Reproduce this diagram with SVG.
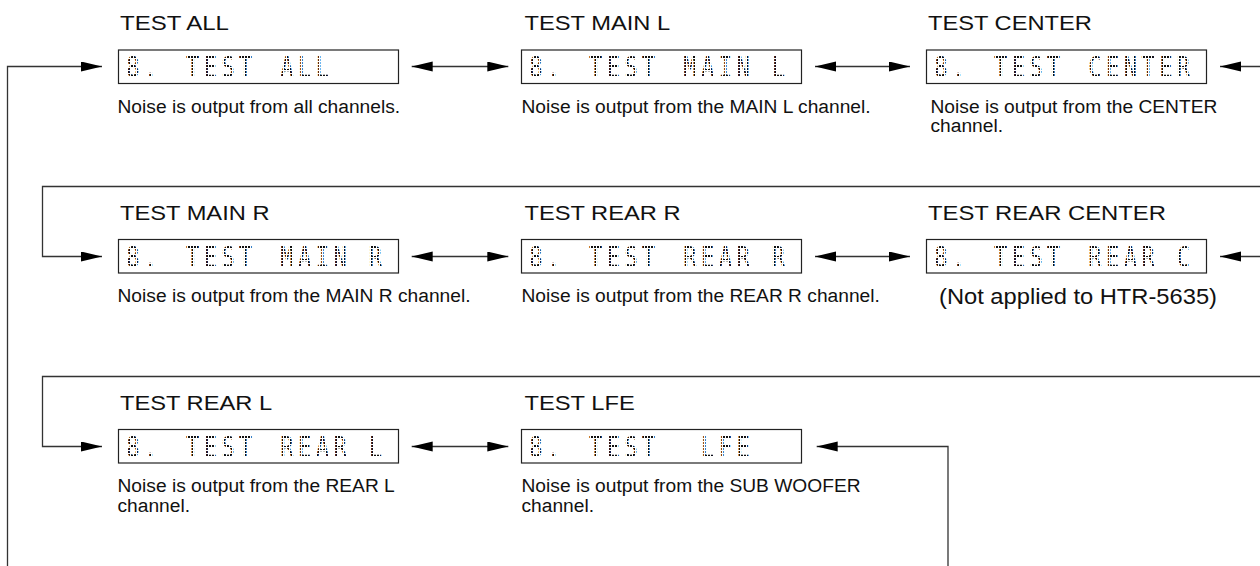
<svg xmlns="http://www.w3.org/2000/svg" width="1260" height="566" viewBox="0 0 1260 566">
<style>
.title{font-family:"Liberation Sans",Arial,sans-serif;font-size:21px;fill:#111}
.desc{font-family:"Liberation Sans",Arial,sans-serif;font-size:19.2px;fill:#111}
.lcd{font-family:"DejaVu Sans Mono",monospace;font-size:27.5px;fill:url(#dm);text-anchor:middle;white-space:pre}
.box{fill:#fff;stroke:#222;stroke-width:1.2}
.conn{fill:none;stroke:#333;stroke-width:1.3}
</style>
<defs>
<pattern id="dm" patternUnits="userSpaceOnUse" width="3.75" height="3"><rect width="2.5" height="2" fill="#111"/></pattern>
<marker id="ah" markerUnits="userSpaceOnUse" markerWidth="22" markerHeight="11" refX="21" refY="5" orient="auto-start-reverse"><path d="M0,0 L21,5 L0,10 Z" fill="#000"/></marker>
</defs>
<rect width="1260" height="566" fill="#fff"/>
<g id="connectors">
<path class="conn" d="M7.5 566 V66.5 H102" marker-end="url(#ah)"/>
<path class="conn" d="M411.7 66.5 H508.3" marker-start="url(#ah)" marker-end="url(#ah)"/>
<path class="conn" d="M815 66.5 H910" marker-start="url(#ah)" marker-end="url(#ah)"/>
<path class="conn" d="M1260 66.5 H1220" marker-end="url(#ah)"/>
<path class="conn" d="M1260 186.5 H42.5 V256.5 H102" marker-end="url(#ah)"/>
<path class="conn" d="M411.7 256.5 H508.3" marker-start="url(#ah)" marker-end="url(#ah)"/>
<path class="conn" d="M815 256.5 H910" marker-start="url(#ah)" marker-end="url(#ah)"/>
<path class="conn" d="M1260 256.5 H1220" marker-end="url(#ah)"/>
<path class="conn" d="M1260 376.5 H42.5 V446.5 H102" marker-end="url(#ah)"/>
<path class="conn" d="M411.7 446.5 H508.3" marker-start="url(#ah)" marker-end="url(#ah)"/>
<path class="conn" d="M948 566 V446.5 H816.7" marker-end="url(#ah)"/>
</g>
<g id="test-all">
<text class="title" x="120" y="30" textLength="108.9" lengthAdjust="spacingAndGlyphs">TEST ALL</text>
<rect class="box" x="118.5" y="50" width="280" height="33.5"/>
<text class="lcd" transform="translate(119,77) scale(0.8,1)" x="17.5 39.4 60 91.9 114.1 136.3 158.1 185 210 232.1 254.3" y="0">8. TEST ALL</text>
<text class="desc" x="117.5" y="112.5">Noise is output from all channels.</text>
</g>
<g id="test-main-l">
<text class="title" x="524.5" y="30" textLength="145.6" lengthAdjust="spacingAndGlyphs">TEST MAIN L</text>
<rect class="box" x="521.5" y="50" width="280" height="33.5"/>
<text class="lcd" transform="translate(522,77) scale(0.8,1)" x="17.5 39.4 60 91.9 114.1 136.3 158.1 185 210 232.1 254.3 276.4 298.5 320.6" y="0">8. TEST MAIN L</text>
<text class="desc" x="521.5" y="112.5">Noise is output from the MAIN L channel.</text>
</g>
<g id="test-center">
<text class="title" x="928" y="30" textLength="163.9" lengthAdjust="spacingAndGlyphs">TEST CENTER</text>
<rect class="box" x="926.5" y="50" width="280" height="33.5"/>
<text class="lcd" transform="translate(927,77) scale(0.8,1)" x="17.5 39.4 60 91.9 114.1 136.3 158.1 185 210 232.1 254.3 276.4 298.5 320.6" y="0">8. TEST CENTER</text>
<text class="desc" x="930.5" y="112.5">Noise is output from the CENTER</text>
<text class="desc" x="930.5" y="132">channel.</text>
</g>
<g id="test-main-r">
<text class="title" x="120" y="220" textLength="149.5" lengthAdjust="spacingAndGlyphs">TEST MAIN R</text>
<rect class="box" x="118.5" y="239.5" width="280" height="33.5"/>
<text class="lcd" transform="translate(119,267) scale(0.8,1)" x="17.5 39.4 60 91.9 114.1 136.3 158.1 185 210 232.1 254.3 276.4 298.5 320.6" y="0">8. TEST MAIN R</text>
<text class="desc" x="117.5" y="302">Noise is output from the MAIN R channel.</text>
</g>
<g id="test-rear-r">
<text class="title" x="524.5" y="220" textLength="156" lengthAdjust="spacingAndGlyphs">TEST REAR R</text>
<rect class="box" x="521.5" y="239.5" width="280" height="33.5"/>
<text class="lcd" transform="translate(522,267) scale(0.8,1)" x="17.5 39.4 60 91.9 114.1 136.3 158.1 185 210 232.1 254.3 276.4 298.5 320.6" y="0">8. TEST REAR R</text>
<text class="desc" x="521.5" y="302">Noise is output from the REAR R channel.</text>
</g>
<g id="test-rear-center">
<text class="title" x="928" y="220" textLength="238" lengthAdjust="spacingAndGlyphs">TEST REAR CENTER</text>
<rect class="box" x="926.5" y="239.5" width="280" height="33.5"/>
<text class="lcd" transform="translate(927,267) scale(0.8,1)" x="17.5 39.4 60 91.9 114.1 136.3 158.1 185 210 232.1 254.3 276.4 298.5 320.6" y="0">8. TEST REAR C</text>
<text class="desc" x="939" y="304" style="font-size:22px" textLength="278" lengthAdjust="spacingAndGlyphs">(Not applied to HTR-5635)</text>
</g>
<g id="test-rear-l">
<text class="title" x="120" y="410" textLength="152.1" lengthAdjust="spacingAndGlyphs">TEST REAR L</text>
<rect class="box" x="118.5" y="429.5" width="280" height="33.5"/>
<text class="lcd" transform="translate(119,457) scale(0.8,1)" x="17.5 39.4 60 91.9 114.1 136.3 158.1 185 210 232.1 254.3 276.4 298.5 320.6" y="0">8. TEST REAR L</text>
<text class="desc" x="117.5" y="492">Noise is output from the REAR L</text>
<text class="desc" x="117.5" y="511.5">channel.</text>
</g>
<g id="test-lfe">
<text class="title" x="524.5" y="410" textLength="110.2" lengthAdjust="spacingAndGlyphs">TEST LFE</text>
<rect class="box" x="521.5" y="429.5" width="280" height="33.5"/>
<text class="lcd" transform="translate(522,457) scale(0.8,1)" x="17.5 39.4 60 91.9 114.1 136.3 158.1 185 232.1 254.3 276.4" y="0">8. TEST LFE</text>
<text class="desc" x="521.5" y="492">Noise is output from the SUB WOOFER</text>
<text class="desc" x="521.5" y="511.5">channel.</text>
</g>
</svg>
